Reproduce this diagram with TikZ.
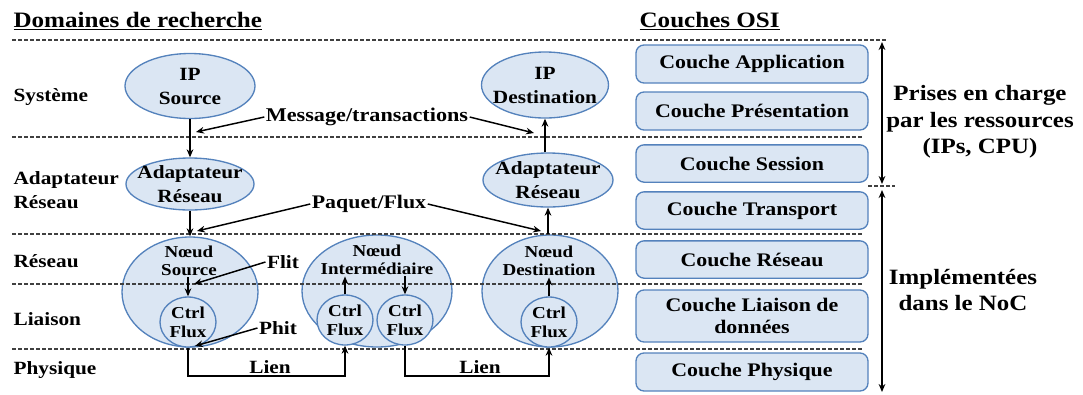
\documentclass[tikz,border=0pt]{standalone}
\usepackage{fontspec}
\setmainfont{Liberation Serif}[FakeStretch=1.14]
\usetikzlibrary{shapes.geometric}
\usetikzlibrary{arrows.meta}
\definecolor{fondbleu}{RGB}{219,230,243}
\definecolor{bordbleu}{RGB}{84,130,188}

\begin{document}
\begin{tikzpicture}[x=0.75pt,y=-0.75pt,
    ovale/.style={ellipse,draw=bordbleu,fill=fondbleu,line width=1pt,inner sep=0pt},
    couche/.style={draw=bordbleu,fill=fondbleu,line width=1pt,rounded corners=6pt,
        minimum width=174pt,minimum height=28pt,align=center,
        font=\fontsize{14.4}{16.5}\selectfont\bfseries},
    texte/.style={inner sep=1pt,align=center,font=\fontsize{14}{18}\selectfont\bfseries},
    petit/.style={inner sep=1pt,align=center,font=\fontsize{12.5}{13.5}\selectfont\bfseries},
    ctrl/.style={ovale,minimum width=42pt,minimum height=37.5pt,align=center,
        font=\fontsize{12.5}{14}\selectfont\bfseries},
    titre/.style={inner sep=1pt,anchor=west,font=\fontsize{16.5}{19.5}\selectfont\bfseries},
    grand/.style={inner sep=1pt,align=center,font=\fontsize{16.4}{19.8}\selectfont\bfseries},
    pointille/.style={black!75,line width=0.9pt,dash pattern=on 3pt off 1.5pt},
    fleche/.style={-{Stealth[length=6pt,width=5pt]},line width=1.1pt}]
    \useasboundingbox (0,0) rectangle (1083,394);

    % titres
    \node[titre] (tdom) at (12,21) {\underline{Domaines de recherche}};
    \node[titre] (tosi) at (638,21) {\underline{Couches OSI}};

    % domaines
    \node[texte,anchor=west] (lsys) at (12,97) {Système};
    \node[texte,anchor=west,align=left] (lada) at (12,190) {Adaptateur\\Réseau};
    \node[texte,anchor=west] (lres) at (12,261) {Réseau};
    \node[texte,anchor=west] (lliai) at (12,319) {Liaison};
    \node[texte,anchor=west] (lphy) at (12,370) {Physique};

    % IP et adaptateurs
    \node[ovale,minimum width=97.5pt,minimum height=48.75pt] (ipsrc) at (190,86) {};
    \node[texte] at (ipsrc) {IP\\Source};
    \node[ovale,minimum width=95.25pt,minimum height=49.5pt] (ipdst) at (545,85) {};
    \node[texte] at (ipdst) {IP\\Destination};
    \node[ovale,minimum width=96pt,minimum height=39pt] (adsrc) at (190,184) {};
    \node[texte] at (adsrc) {Adaptateur\\Réseau};
    \node[ovale,minimum width=97.5pt,minimum height=40.5pt] (addst) at (548,180) {};
    \node[texte] at (addst) {Adaptateur\\Réseau};

    % noeuds
    \node[ovale,minimum width=102pt,minimum height=82.5pt] (nsrc) at (190,292) {};
    \node[ovale,minimum width=112.5pt,minimum height=84pt] (nint) at (377,291) {};
    \node[ovale,minimum width=102pt,minimum height=84pt] (ndst) at (550,291) {};
    \node[petit] (nsrct) at (189,261) {Nœud\\Source};
    \node[petit] (nintt) at (377,260) {Nœud\\Intermédiaire};
    \node[petit] (ndstt) at (549,261) {Nœud\\Destination};
    \node[ctrl] (csrc) at (188,322) {Ctrl\\Flux};
    \node[ctrl] (cint1) at (345,320) {Ctrl\\Flux};
    \node[ctrl] (cint2) at (405,320) {Ctrl\\Flux};
    \node[ctrl] (cdst) at (549,322) {Ctrl\\Flux};

    % lignes pointillees
    \draw[pointille] (12,40) -- (888,40);
    \draw[pointille] (12,137) -- (862,137);
    \draw[pointille] (12,234) -- (862,234);
    \draw[pointille] (12,284) -- (862,284);
    \draw[pointille] (12,349) -- (862,349);
    \draw[pointille] (868,186) -- (895,186);

    % couches OSI
    \node[couche,minimum height=28.5pt] (capp) at (752,64) {Couche Application};
    \node[couche,minimum height=28.5pt] (cpres) at (752,111) {Couche Présentation};
    \node[couche] (csess) at (752,163.5) {Couche Session};
    \node[couche] (ctrans) at (752,210.5) {Couche Transport};
    \node[couche] (cres) at (752,259.5) {Couche Réseau};
    \node[couche,minimum height=39pt] (cliai) at (752,316) {Couche Liaison de\\données};
    \node[couche,minimum height=28.5pt] (cphy) at (752,372) {Couche Physique};

    % accolades droite
    \coordinate (h1) at (882,42);
    \coordinate (h2) at (882,184);
    \coordinate (b1) at (882,190);
    \coordinate (b2) at (882,392);
    \draw[fleche,{Stealth[length=6pt,width=5pt]}-{Stealth[length=6pt,width=5pt]}] (h1) -- (h2);
    \draw[fleche,{Stealth[length=6pt,width=5pt]}-{Stealth[length=6pt,width=5pt]}] (b1) -- (b2);
    \node[grand] (tpris) at (980,122) {Prises en charge\\par les ressources\\(IPs, CPU)};
    \node[grand] (timpl) at (963,290) {Implémentées\\dans le NoC};

    % fleches verticales
    \draw[fleche] (ipsrc.south) -- (adsrc.north);
    \draw[fleche] (adsrc.south) -- (nsrc.north);
    \draw[fleche] (addst.north -| ipdst.south) -- (ipdst.south);
    \draw[fleche] (ndst.north -| addst.south) -- (addst.south);
    \draw[fleche] (csrc.north |- nsrct.south) -- (csrc.north);
    \draw[fleche] (cint1.north) -- (cint1.north |- nintt.south);
    \draw[fleche] (cint2.north |- nintt.south) -- (cint2.north);
    \draw[fleche] (cdst.north) -- (cdst.north |- ndstt.south);

    % etiquettes
    \node[texte,font=\fontsize{14.6}{18}\selectfont\bfseries] (msg) at (367,117) {Message/transactions};
    \coordinate (m1) at (196,132);
    \coordinate (m2) at (534,133);
    \draw[fleche] (msg.west) -- (m1);
    \draw[fleche] (msg.east) -- (m2);
    \node[texte,font=\fontsize{14.4}{18}\selectfont\bfseries] (paq) at (369,204) {Paquet/Flux};
    \coordinate (p1) at (197,231);
    \coordinate (p2) at (541,231);
    \draw[fleche] (paq.west) -- (p1);
    \draw[fleche] (paq.east) -- (p2);
    \node[texte] (flit) at (283,262) {Flit};
    \coordinate (f1) at (194,284);
    \draw[fleche] (flit.west) -- (f1);
    \node[texte] (phit) at (278,328) {Phit};
    \coordinate (ph1) at (195,346);
    \draw[fleche] (phit.west) -- (ph1);

    % liens
    \coordinate (l1) at (188,376);
    \coordinate (l2) at (345,376);
    \coordinate (l3) at (405,376);
    \coordinate (l4) at (549,376);
    \draw[fleche] (csrc.south) -- (l1) -- (l2) -- (cint1.south);
    \draw[fleche] (cint2.south) -- (l3) -- (l4) -- (cdst.south);
    \node[texte] (lien1) at (270,367) {Lien};
    \node[texte] (lien2) at (480,367) {Lien};
\end{tikzpicture}
\end{document}
